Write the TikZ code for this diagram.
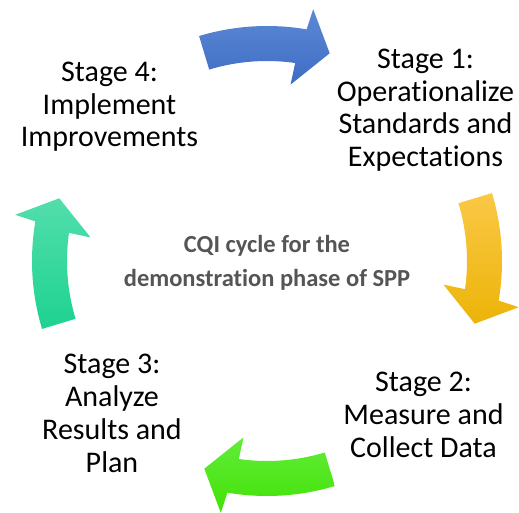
\documentclass[tikz,border=0pt]{standalone}
\usepackage{fontspec}
\setmainfont{Carlito}[Ligatures=NoCommon]

\definecolor{blueTop}{RGB}{92,137,212}
\definecolor{blueBot}{RGB}{62,108,196}
\definecolor{goldTop}{RGB}{250,200,70}
\definecolor{goldBot}{RGB}{236,180,8}
\definecolor{limeTop}{RGB}{98,236,58}
\definecolor{limeBot}{RGB}{66,226,6}
\definecolor{tealTop}{RGB}{82,222,172}
\definecolor{tealBot}{RGB}{30,210,145}
\definecolor{cqigray}{RGB}{85,85,85}

% one curved arrow of the cycle: start angle, top colour, bottom colour
\newcommand\cqiarrow[3]{%
  \shade[top color=#2, bottom color=#3]
    (#1:235) arc[start angle=#1, end angle={#1-26.5}, radius=235]
    -- ({#1-27.2}:256) -- ({#1-33.6}:217) -- ({#1-24.4}:178)
    -- ({#1-24.9}:200) arc[start angle={#1-24.9}, end angle=#1, radius=200]
    -- cycle;}

\begin{document}
\begin{tikzpicture}[x=1pt, y=1pt,
    stage/.style={align=center, anchor=base, inner sep=0pt,
      font=\fontsize{30}{32.8}\selectfont},
    title/.style={align=center, anchor=base, inner sep=0pt, text=cqigray,
      font=\bfseries\fontsize{24.5}{33}\selectfont}]
  \useasboundingbox[fill=white] (0,0) rectangle (519,512);

  \begin{scope}[shift={(267,251)}]
    \cqiarrow{106.8}{blueTop}{blueBot}
    \cqiarrow{16.8}{goldTop}{goldBot}
    \cqiarrow{-73.2}{limeTop}{limeBot}
    \cqiarrow{-163.2}{tealTop}{tealBot}
  \end{scope}

  % base anchor sits on the last line
  \node[stage] (stage1) at (425.5,345.3) {Stage 1:\\Operationalize\\Standards and\\Expectations};
  \node[stage] (stage2) at (423.5,55) {Stage 2:\\Measure and\\Collect Data};
  \node[stage] (stage3) at (112,40) {Stage 3:\\Analyze\\Results and\\Plan};
  \node[stage] (stage4) at (109.5,365) {Stage 4:\\Implement\\Improvements};

  \node[title] (cqi) at (267,226) {CQI cycle for the\\demonstration phase of SPP};
\end{tikzpicture}
\end{document}
